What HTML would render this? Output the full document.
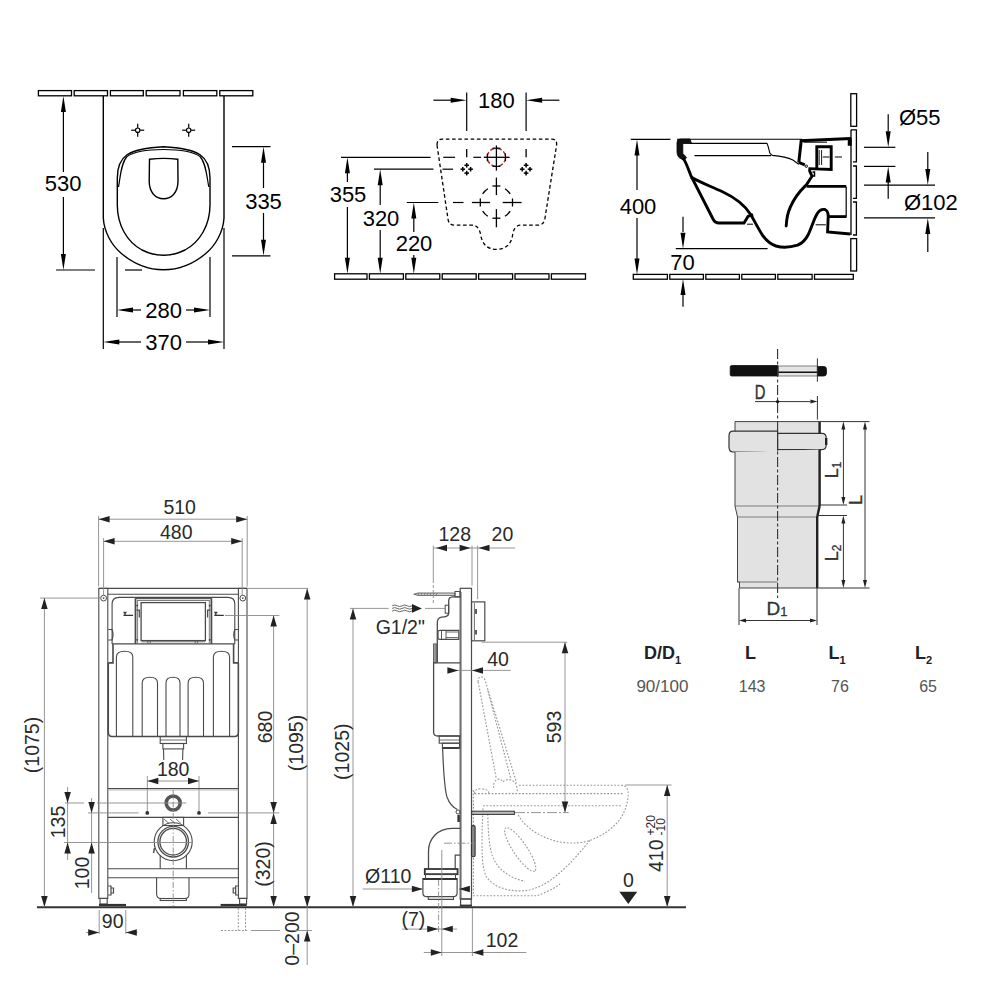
<!DOCTYPE html><html><head><meta charset="utf-8"><style>html,body{margin:0;padding:0;background:#fff;width:1000px;height:1000px;overflow:hidden}svg{display:block}text{font-family:"Liberation Sans",sans-serif}</style></head><body>
<svg width="1000" height="1000" viewBox="0 0 1000 1000">
<g id="s1">
<rect x="38.4" y="90.6" width="33.1" height="5.2" rx="0" stroke="#000" stroke-width="1.3" fill="none" />
<rect x="74.2" y="90.6" width="33.3" height="5.2" rx="0" stroke="#000" stroke-width="1.3" fill="none" />
<rect x="110.4" y="90.6" width="32.9" height="5.2" rx="0" stroke="#000" stroke-width="1.3" fill="none" />
<rect x="146.2" y="90.6" width="33.8" height="5.2" rx="0" stroke="#000" stroke-width="1.3" fill="none" />
<rect x="183.4" y="90.6" width="33.4" height="5.2" rx="0" stroke="#000" stroke-width="1.3" fill="none" />
<rect x="219.8" y="90.6" width="33" height="5.2" rx="0" stroke="#000" stroke-width="1.3" fill="none" />
<path d="M103.3,96 L103.3,218 C104,232 112,246 122,254 C134,264 148,269.8 163.6,269.8 C179.2,269.8 193.2,264 205.2,254 C215.2,246 223.3,232 224,218 L224,96" stroke="#000" stroke-width="1.4" fill="none" />
<path d="M117.3,178 C117.3,156 128,148.5 163.6,146.7 C199,148.5 210,156 210,178 L210,205 C210,225 200,242 185,250 C178,253.5 171,255.3 163.6,255.3 C156,255.3 149,253.5 142,250 C127,242 117.3,225 117.3,205 Z" stroke="#000" stroke-width="1.4" fill="none" />
<path d="M118.5,187 C120.5,176 121,163 127,156.5 C135,150.8 150,149.5 163.6,149.5 C177,149.5 192,150.8 200,156.5 C206,163 206.7,176 208.8,187" stroke="#000" stroke-width="1.2" fill="none" />
<path d="M149.5,159.2 Q163.6,157.6 177.8,159.2 L178,181 C178,192.5 171.5,198.8 163.6,198.8 C155.7,198.8 149.2,192.5 149.2,181 Z" stroke="#000" stroke-width="1.4" fill="none" />
<circle cx="137.7" cy="130.2" r="2.2" stroke="#000" stroke-width="1.2" fill="none" />
<line x1="131.2" y1="130.2" x2="135.3" y2="130.2" stroke="#000" stroke-width="1.2" />
<line x1="140.1" y1="130.2" x2="144.2" y2="130.2" stroke="#000" stroke-width="1.2" />
<line x1="137.7" y1="123.7" x2="137.7" y2="127.8" stroke="#000" stroke-width="1.2" />
<line x1="137.7" y1="132.6" x2="137.7" y2="136.7" stroke="#000" stroke-width="1.2" />
<circle cx="188.7" cy="130.2" r="2.2" stroke="#000" stroke-width="1.2" fill="none" />
<line x1="182.2" y1="130.2" x2="186.3" y2="130.2" stroke="#000" stroke-width="1.2" />
<line x1="191.1" y1="130.2" x2="195.2" y2="130.2" stroke="#000" stroke-width="1.2" />
<line x1="188.7" y1="123.7" x2="188.7" y2="127.8" stroke="#000" stroke-width="1.2" />
<line x1="188.7" y1="132.6" x2="188.7" y2="136.7" stroke="#000" stroke-width="1.2" />
<line x1="63.4" y1="111" x2="63.4" y2="172" stroke="#000" stroke-width="1.2" />
<line x1="63.4" y1="197" x2="63.4" y2="255" stroke="#000" stroke-width="1.2" />
<polygon points="63.4,96 60.9,112 65.9,112" fill="#000" stroke="none" stroke-width="1"/>
<polygon points="63.4,270 60.9,254 65.9,254" fill="#000" stroke="none" stroke-width="1"/>
<line x1="56" y1="270" x2="95" y2="270" stroke="#000" stroke-width="1.2" />
<line x1="125" y1="270" x2="142" y2="270" stroke="#000" stroke-width="1.2" />
<text x="63.2" y="191.2" font-size="22" text-anchor="middle" fill="#000" font-weight="normal" >530</text>
<line x1="232" y1="146.7" x2="270.5" y2="146.7" stroke="#000" stroke-width="1.2" />
<line x1="232" y1="255.8" x2="270.5" y2="255.8" stroke="#000" stroke-width="1.2" />
<line x1="263.5" y1="160" x2="263.5" y2="188" stroke="#000" stroke-width="1.2" />
<line x1="263.5" y1="213" x2="263.5" y2="242" stroke="#000" stroke-width="1.2" />
<polygon points="263.5,146.7 261,162.7 266,162.7" fill="#000" stroke="none" stroke-width="1"/>
<polygon points="263.5,255.8 261,239.8 266,239.8" fill="#000" stroke="none" stroke-width="1"/>
<text x="263.5" y="208.5" font-size="22" text-anchor="middle" fill="#000" font-weight="normal" >335</text>
<line x1="117" y1="257" x2="117" y2="317" stroke="#000" stroke-width="1.2" />
<line x1="210" y1="257" x2="210" y2="317" stroke="#000" stroke-width="1.2" />
<polygon points="117,310 133,307.5 133,312.5" fill="#000" stroke="none" stroke-width="1"/>
<polygon points="210,310 194,307.5 194,312.5" fill="#000" stroke="none" stroke-width="1"/>
<line x1="130" y1="310" x2="141" y2="310" stroke="#000" stroke-width="1.2" />
<line x1="186" y1="310" x2="197" y2="310" stroke="#000" stroke-width="1.2" />
<text x="163.6" y="318" font-size="22" text-anchor="middle" fill="#000" font-weight="normal" >280</text>
<line x1="103.3" y1="228" x2="103.3" y2="349" stroke="#000" stroke-width="1.2" />
<line x1="224" y1="228" x2="224" y2="349" stroke="#000" stroke-width="1.2" />
<polygon points="103.3,342 119.3,339.5 119.3,344.5" fill="#000" stroke="none" stroke-width="1"/>
<polygon points="224,342 208,339.5 208,344.5" fill="#000" stroke="none" stroke-width="1"/>
<line x1="117" y1="342" x2="141" y2="342" stroke="#000" stroke-width="1.2" />
<line x1="186" y1="342" x2="210" y2="342" stroke="#000" stroke-width="1.2" />
<text x="163.6" y="350" font-size="22" text-anchor="middle" fill="#000" font-weight="normal" >370</text>
</g>
<g id="s2">
<rect x="334.6" y="273.8" width="32.4" height="5.4" rx="0" stroke="#000" stroke-width="1.3" fill="none" />
<rect x="369.4" y="273.8" width="34" height="5.4" rx="0" stroke="#000" stroke-width="1.3" fill="none" />
<rect x="405.8" y="273.8" width="34" height="5.4" rx="0" stroke="#000" stroke-width="1.3" fill="none" />
<rect x="442.2" y="273.8" width="34" height="5.4" rx="0" stroke="#000" stroke-width="1.3" fill="none" />
<rect x="478.6" y="273.8" width="34" height="5.4" rx="0" stroke="#000" stroke-width="1.3" fill="none" />
<rect x="515" y="273.8" width="34" height="5.4" rx="0" stroke="#000" stroke-width="1.3" fill="none" />
<rect x="551.4" y="273.8" width="34.1" height="5.4" rx="0" stroke="#000" stroke-width="1.3" fill="none" />
<path d="M437,145 Q437,139.2 442,139.2 L552,139.2 Q557,139.2 556.6,145 L545,218 Q544,225.2 538,225.2 L521,225.2 C516,225.2 513.5,229 512.8,234 C511.5,244 506,249.3 496.4,249.3 C487,249.3 482,244 480.5,234 C479.5,229 477,225.2 472,225.2 L455,225.2 Q448.5,225.2 448,219 Z" stroke="#000" stroke-width="1.3" fill="none" stroke-dasharray="3.6,2.6"/>
<circle cx="496.4" cy="157.3" r="9.1" stroke="#b02828" stroke-width="1.5" fill="none" stroke-dasharray="5,2.2"/>
<line x1="496.4" y1="145.4" x2="496.4" y2="170.6" stroke="#000" stroke-width="1.3" />
<line x1="483.8" y1="157.3" x2="509.7" y2="157.3" stroke="#000" stroke-width="1.3" />
<line x1="492.5" y1="148.2" x2="500.3" y2="148.2" stroke="#000" stroke-width="1.1" />
<line x1="492.5" y1="166.4" x2="500.3" y2="166.4" stroke="#000" stroke-width="1.1" />
<line x1="487.3" y1="153.4" x2="487.3" y2="161.2" stroke="#000" stroke-width="1.1" />
<line x1="505.5" y1="153.4" x2="505.5" y2="161.2" stroke="#000" stroke-width="1.1" />
<line x1="468.3" y1="169.2" x2="472.9" y2="169.2" stroke="#000" stroke-width="1.5" />
<line x1="470.6" y1="166.9" x2="470.6" y2="171.5" stroke="#000" stroke-width="1.5" />
<line x1="460.5" y1="169.2" x2="465.1" y2="169.2" stroke="#000" stroke-width="1.5" />
<line x1="462.8" y1="166.9" x2="462.8" y2="171.5" stroke="#000" stroke-width="1.5" />
<line x1="464.4" y1="173.1" x2="469" y2="173.1" stroke="#000" stroke-width="1.5" />
<line x1="466.7" y1="170.8" x2="466.7" y2="175.4" stroke="#000" stroke-width="1.5" />
<line x1="464.4" y1="165.3" x2="469" y2="165.3" stroke="#000" stroke-width="1.5" />
<line x1="466.7" y1="163" x2="466.7" y2="167.6" stroke="#000" stroke-width="1.5" />
<line x1="466.7" y1="148.9" x2="466.7" y2="157.3" stroke="#000" stroke-width="1.3" />
<line x1="527.7" y1="169.2" x2="532.3" y2="169.2" stroke="#000" stroke-width="1.5" />
<line x1="530" y1="166.9" x2="530" y2="171.5" stroke="#000" stroke-width="1.5" />
<line x1="519.9" y1="169.2" x2="524.5" y2="169.2" stroke="#000" stroke-width="1.5" />
<line x1="522.2" y1="166.9" x2="522.2" y2="171.5" stroke="#000" stroke-width="1.5" />
<line x1="523.8" y1="173.1" x2="528.4" y2="173.1" stroke="#000" stroke-width="1.5" />
<line x1="526.1" y1="170.8" x2="526.1" y2="175.4" stroke="#000" stroke-width="1.5" />
<line x1="523.8" y1="165.3" x2="528.4" y2="165.3" stroke="#000" stroke-width="1.5" />
<line x1="526.1" y1="163" x2="526.1" y2="167.6" stroke="#000" stroke-width="1.5" />
<line x1="526.1" y1="148.9" x2="526.1" y2="157.3" stroke="#000" stroke-width="1.3" />
<path d="M510.14,211.08 A16.2,16.2 0 0 1 504.98,216.24" stroke="#000" stroke-width="1.3" fill="none" />
<path d="M487.82,216.24 A16.2,16.2 0 0 1 482.66,211.08" stroke="#000" stroke-width="1.3" fill="none" />
<path d="M482.66,193.92 A16.2,16.2 0 0 1 487.82,188.76" stroke="#000" stroke-width="1.3" fill="none" />
<path d="M504.98,188.76 A16.2,16.2 0 0 1 510.14,193.92" stroke="#000" stroke-width="1.3" fill="none" />
<line x1="471.9" y1="202.5" x2="490.1" y2="202.5" stroke="#000" stroke-width="1.3" />
<line x1="502.7" y1="202.5" x2="521.6" y2="202.5" stroke="#000" stroke-width="1.3" />
<line x1="496.4" y1="177.6" x2="496.4" y2="195.1" stroke="#000" stroke-width="1.3" />
<line x1="496.4" y1="209.1" x2="496.4" y2="227.3" stroke="#000" stroke-width="1.3" />
<line x1="480.3" y1="198.5" x2="480.3" y2="206.5" stroke="#000" stroke-width="1.3" />
<line x1="512.5" y1="198.5" x2="512.5" y2="206.5" stroke="#000" stroke-width="1.3" />
<line x1="492.4" y1="186" x2="500.4" y2="186" stroke="#000" stroke-width="1.3" />
<line x1="492.4" y1="218.2" x2="500.4" y2="218.2" stroke="#000" stroke-width="1.3" />
<line x1="466.7" y1="92.6" x2="466.7" y2="131" stroke="#000" stroke-width="1.2" />
<line x1="526.1" y1="92.6" x2="526.1" y2="131" stroke="#000" stroke-width="1.2" />
<line x1="433.4" y1="100.2" x2="452" y2="100.2" stroke="#000" stroke-width="1.2" />
<polygon points="466.7,100.2 450.7,97.7 450.7,102.7" fill="#000" stroke="none" stroke-width="1"/>
<line x1="541" y1="100.2" x2="559.4" y2="100.2" stroke="#000" stroke-width="1.2" />
<polygon points="526.1,100.2 542.1,97.7 542.1,102.7" fill="#000" stroke="none" stroke-width="1"/>
<text x="496.4" y="108" font-size="22" text-anchor="middle" fill="#000" font-weight="normal" >180</text>
<line x1="341" y1="157.3" x2="430.6" y2="157.3" stroke="#000" stroke-width="1.2" />
<line x1="443.2" y1="157.3" x2="455.1" y2="157.3" stroke="#000" stroke-width="1.2" />
<line x1="473.3" y1="157.3" x2="481" y2="157.3" stroke="#000" stroke-width="1.2" />
<polygon points="347.4,157.3 344.9,173.3 349.9,173.3" fill="#000" stroke="none" stroke-width="1"/>
<polygon points="347.4,273.8 344.9,257.8 349.9,257.8" fill="#000" stroke="none" stroke-width="1"/>
<line x1="347.4" y1="173" x2="347.4" y2="182" stroke="#000" stroke-width="1.2" />
<line x1="347.4" y1="207" x2="347.4" y2="258" stroke="#000" stroke-width="1.2" />
<text x="348" y="202" font-size="22" text-anchor="middle" fill="#000" font-weight="normal" >355</text>
<line x1="374" y1="169.2" x2="433.4" y2="169.2" stroke="#000" stroke-width="1.2" />
<line x1="442.5" y1="169.2" x2="453" y2="169.2" stroke="#000" stroke-width="1.2" />
<polygon points="380.2,169.2 377.7,185.2 382.7,185.2" fill="#000" stroke="none" stroke-width="1"/>
<polygon points="380.2,273.8 377.7,257.8 382.7,257.8" fill="#000" stroke="none" stroke-width="1"/>
<line x1="380.2" y1="184" x2="380.2" y2="205" stroke="#000" stroke-width="1.2" />
<line x1="380.2" y1="230" x2="380.2" y2="258" stroke="#000" stroke-width="1.2" />
<text x="381" y="226" font-size="22" text-anchor="middle" fill="#000" font-weight="normal" >320</text>
<line x1="406.8" y1="202.5" x2="438.3" y2="202.5" stroke="#000" stroke-width="1.2" />
<line x1="453" y1="202.5" x2="463.5" y2="202.5" stroke="#000" stroke-width="1.2" />
<polygon points="413.8,202.5 411.3,218.5 416.3,218.5" fill="#000" stroke="none" stroke-width="1"/>
<polygon points="413.8,273.8 411.3,257.8 416.3,257.8" fill="#000" stroke="none" stroke-width="1"/>
<line x1="413.8" y1="218" x2="413.8" y2="232" stroke="#000" stroke-width="1.2" />
<line x1="413.8" y1="255" x2="413.8" y2="258" stroke="#000" stroke-width="1.2" />
<text x="414" y="251" font-size="22" text-anchor="middle" fill="#000" font-weight="normal" >220</text>
</g>
<g id="s3">
<rect x="633.3" y="274.4" width="34.1" height="4.8" rx="0" stroke="#000" stroke-width="1.3" fill="none" />
<rect x="669.8" y="274.4" width="33.6" height="4.8" rx="0" stroke="#000" stroke-width="1.3" fill="none" />
<rect x="705.8" y="274.4" width="33.6" height="4.8" rx="0" stroke="#000" stroke-width="1.3" fill="none" />
<rect x="741.8" y="274.4" width="33.6" height="4.8" rx="0" stroke="#000" stroke-width="1.3" fill="none" />
<rect x="777.8" y="274.4" width="34.3" height="4.8" rx="0" stroke="#000" stroke-width="1.3" fill="none" />
<rect x="814.5" y="274.4" width="38.8" height="4.8" rx="0" stroke="#000" stroke-width="1.3" fill="none" />
<rect x="850.8" y="93.7" width="5.8" height="32.6" rx="0" stroke="#000" stroke-width="1.3" fill="none" />
<path d="M851,129.8 L856.4,129.8 L856.4,161.8 L853,161.8" stroke="#000" stroke-width="1.3" fill="none" />
<path d="M853,166 L856.4,166 L856.4,198.4 L853,198.4" stroke="#000" stroke-width="1.3" fill="none" />
<path d="M853,202 L856.4,202 L856.4,235 L853,235" stroke="#000" stroke-width="1.3" fill="none" />
<path d="M851,129.8 L851,138" stroke="#000" stroke-width="1.3" fill="none" />
<rect x="850.8" y="238.6" width="5.8" height="32.4" rx="0" stroke="#000" stroke-width="1.3" fill="none" />
<line x1="851" y1="138" x2="851" y2="235" stroke="#000" stroke-width="1.3" />
<line x1="677" y1="139.3" x2="802" y2="139.3" stroke="#000" stroke-width="1.1" />
<path d="M690,143.4 L767,143.4 C768.5,146 769,151 770,153.4 L772.4,155.4 C780,156 788,157.5 792.8,160 C795,161.5 797,163 799,164.2" stroke="#000" stroke-width="1.1" fill="none" />
<line x1="694.5" y1="155.7" x2="771" y2="155.7" stroke="#000" stroke-width="1.2" />
<path d="M677,142.5 Q677,139 680.5,139 L690,139 L691.5,143.5 L682.8,143.5 L682.8,153.5 L686.5,157.5 L684,160.5 L679,157.5 Q677,155.5 677,152 Z" stroke="#000" stroke-width="0.8" fill="#111" />
<path d="M683,158 C686,162 688,168 691,176 L713,219 Q715,223 719,223 L744,223 L748,216.5 L753,214.5" stroke="#000" stroke-width="2.9" fill="none" />
<line x1="747" y1="224.2" x2="753" y2="224.2" stroke="#000" stroke-width="1" />
<path d="M691,177 C697,181 710,186 722,191.5 C736,198 745,205 751,215 C755,222 759,230 762.8,235.6 C766,240 770,244 776,246 C781,247.5 790,247.5 797.6,245.2 C803,243 806,239 808,235 C811,229 814,219 817,214 C819,210.5 822,209 825,209.5 C827.5,210.5 828.2,213 828.2,216.4 L827.6,232 L850.4,234" stroke="#000" stroke-width="2.9" fill="none" />
<path d="M786.2,226 C786.5,220 787.5,213 790.4,207 C793,201 798,193 804.8,186.4 L806.6,184.6 L812,176.2 L809.6,170.8" stroke="#000" stroke-width="2.9" fill="none" stroke-linecap="round"/>
<path d="M812.5,172 L814.5,172 L814.5,176 L812.5,176" stroke="#000" stroke-width="1.5" fill="none" />
<path d="M798.8,162.4 L801.2,140.8 L851,138.4" stroke="#000" stroke-width="3" fill="none" />
<path d="M848.5,139 L851,139 L851,145 L848.5,145 Z" stroke="#000" stroke-width="1.5" fill="#000" />
<path d="M803.6,142.2 L827,142.2" stroke="#000" stroke-width="1" fill="none" />
<path d="M808.4,168.6 L831.2,169.4 L831.2,146.8 L816.8,146.8 L816.8,168" stroke="#000" stroke-width="2.9" fill="none" />
<line x1="819.2" y1="150" x2="819.2" y2="165" stroke="#000" stroke-width="0.9" />
<line x1="821.6" y1="150" x2="821.6" y2="165" stroke="#000" stroke-width="0.9" />
<line x1="822.8" y1="157" x2="829.4" y2="157" stroke="#000" stroke-width="1" />
<line x1="834.8" y1="157" x2="842" y2="157" stroke="#000" stroke-width="1" />
<path d="M798.8,162.4 L804.8,164.8" stroke="#000" stroke-width="2.9" fill="none" />
<circle cx="806.3" cy="166.2" r="1.2" stroke="#000" stroke-width="1" fill="none" />
<line x1="806.6" y1="186.4" x2="846.2" y2="186.4" stroke="#000" stroke-width="2.8" />
<line x1="846.2" y1="186.4" x2="846.2" y2="217.6" stroke="#000" stroke-width="1.2" />
<line x1="827.6" y1="216.6" x2="846.2" y2="216.6" stroke="#000" stroke-width="2.8" />
<line x1="815.6" y1="224.8" x2="825.8" y2="224.8" stroke="#000" stroke-width="1" />
<line x1="864" y1="147.3" x2="895.4" y2="147.3" stroke="#000" stroke-width="1.2" />
<line x1="864" y1="166.4" x2="895.4" y2="166.4" stroke="#000" stroke-width="1.2" />
<line x1="864" y1="185.1" x2="935" y2="185.1" stroke="#000" stroke-width="1.2" />
<line x1="864" y1="217.9" x2="935" y2="217.9" stroke="#000" stroke-width="1.2" />
<line x1="888.2" y1="114.2" x2="888.2" y2="131" stroke="#000" stroke-width="1.2" />
<polygon points="888.2,147.3 885.7,131.3 890.7,131.3" fill="#000" stroke="none" stroke-width="1"/>
<line x1="888.2" y1="198.8" x2="888.2" y2="182" stroke="#000" stroke-width="1.2" />
<polygon points="888.2,166.4 885.7,182.4 890.7,182.4" fill="#000" stroke="none" stroke-width="1"/>
<line x1="927.8" y1="152" x2="927.8" y2="169" stroke="#000" stroke-width="1.2" />
<polygon points="927.8,185.1 925.3,169.1 930.3,169.1" fill="#000" stroke="none" stroke-width="1"/>
<line x1="927.8" y1="252" x2="927.8" y2="234" stroke="#000" stroke-width="1.2" />
<polygon points="927.8,217.9 925.3,233.9 930.3,233.9" fill="#000" stroke="none" stroke-width="1"/>
<text x="919.7" y="125" font-size="22" text-anchor="middle" fill="#000" font-weight="normal" >Ø55</text>
<text x="930.8" y="209.6" font-size="22" text-anchor="middle" fill="#000" font-weight="normal" >Ø102</text>
<line x1="630.8" y1="139.4" x2="670.4" y2="139.4" stroke="#000" stroke-width="1.2" />
<polygon points="637,139.4 634.5,155.4 639.5,155.4" fill="#000" stroke="none" stroke-width="1"/>
<polygon points="637,274.4 634.5,258.4 639.5,258.4" fill="#000" stroke="none" stroke-width="1"/>
<line x1="637" y1="155" x2="637" y2="190" stroke="#000" stroke-width="1.2" />
<line x1="637" y1="218" x2="637" y2="259" stroke="#000" stroke-width="1.2" />
<text x="638" y="214" font-size="22" text-anchor="middle" fill="#000" font-weight="normal" >400</text>
<line x1="683" y1="216.8" x2="683" y2="232" stroke="#000" stroke-width="1.2" />
<polygon points="683,248.7 680.5,232.7 685.5,232.7" fill="#000" stroke="none" stroke-width="1"/>
<line x1="675.8" y1="248.7" x2="767.6" y2="248.7" stroke="#000" stroke-width="1.2" />
<line x1="683" y1="306.8" x2="683" y2="295" stroke="#000" stroke-width="1.2" />
<polygon points="683,279 680.5,295 685.5,295" fill="#000" stroke="none" stroke-width="1"/>
<text x="682.4" y="269.7" font-size="22" text-anchor="middle" fill="#000" font-weight="normal" >70</text>
</g>
<g id="s4">
<rect x="730.2" y="365.5" width="48.5" height="10.5" rx="1.5" stroke="#111" stroke-width="0.8" fill="#111" />
<rect x="778.5" y="366" width="38.9" height="10" rx="0" stroke="#666" stroke-width="0.8" fill="#e4e4e4" />
<line x1="778.5" y1="372.2" x2="817.4" y2="372.2" stroke="#111" stroke-width="1.6" />
<path d="M817.4,366.5 L824,366.5 Q826.5,366.5 826.5,369.5 L826.5,373 Q826.5,376 824,376 L817.4,376 Z" stroke="#111" stroke-width="0.8" fill="#111" />
<line x1="817.4" y1="358.4" x2="817.4" y2="381.8" stroke="#333" stroke-width="1" />
<text x="760.2" y="399.2" font-size="20" text-anchor="middle" fill="#333" font-weight="normal" transform="translate(760.2 0) scale(0.74 1) translate(-760.2 0)" stroke="#333" stroke-width="0.4">D</text>
<line x1="755" y1="401.6" x2="810" y2="401.6" stroke="#333" stroke-width="1" />
<polygon points="817.4,401.6 810.4,399.6 810.4,403.6" fill="#222" stroke="none" stroke-width="1"/>
<circle cx="777.6" cy="401.6" r="1.6" stroke="#000" stroke-width="0" fill="#111" />
<line x1="817.4" y1="396" x2="817.4" y2="419.6" stroke="#333" stroke-width="1" />
<path d="M735,433 L735,421.6 L819.6,421.6 L819.6,433" stroke="#444" stroke-width="1" fill="#e2e2e2" />
<path d="M733,431.2 L777.6,431.2 L777.6,452 L733,452 Q729,452 729,447 L729,436 Q729,431.2 733,431.2 Z" stroke="#333" stroke-width="1.2" fill="#e2e2e2" />
<path d="M777.6,433.4 L822,433.4 Q826.2,433.4 826.2,438 L826.2,445 Q826.2,449.6 822,449.6 L777.6,449.6 Z" stroke="#333" stroke-width="1.2" fill="#e2e2e2" />
<path d="M735,452 L735,506 L737.5,517 L737.5,582 L739.5,582 L739.5,588 L817,588 L817,517 L819.6,506 L819.6,449.6" stroke="#444" stroke-width="1" fill="#e2e2e2" />
<line x1="735" y1="506" x2="819.6" y2="506" stroke="#666" stroke-width="0.8" />
<line x1="737.5" y1="517" x2="817" y2="517" stroke="#666" stroke-width="0.8" />
<line x1="737.5" y1="582" x2="777.6" y2="582" stroke="#555" stroke-width="0.8" />
<line x1="819.6" y1="421.6" x2="819.6" y2="433.4" stroke="#222" stroke-width="2.4" />
<line x1="826.2" y1="438" x2="826.2" y2="445" stroke="#222" stroke-width="2.4" />
<line x1="819.6" y1="449.6" x2="819.6" y2="506" stroke="#222" stroke-width="2.4" />
<line x1="817.2" y1="517" x2="817.2" y2="588" stroke="#222" stroke-width="2.4" />
<line x1="819.6" y1="506" x2="817.2" y2="517" stroke="#222" stroke-width="2.4" />
<line x1="777.6" y1="349" x2="777.6" y2="598" stroke="#333" stroke-width="1.1" stroke-dasharray="10,2.5,3,2.5"/>
<line x1="820" y1="421.6" x2="869.5" y2="421.6" stroke="#333" stroke-width="1" />
<line x1="817" y1="588" x2="869.5" y2="588" stroke="#333" stroke-width="1" />
<line x1="820" y1="505" x2="847" y2="505" stroke="#333" stroke-width="1" />
<line x1="817" y1="515.5" x2="847" y2="515.5" stroke="#333" stroke-width="1" />
<line x1="865" y1="428" x2="865" y2="582" stroke="#333" stroke-width="1" />
<polygon points="865,421.6 863,429.6 867,429.6" fill="#222" stroke="none" stroke-width="1"/>
<polygon points="865,588 863,580 867,580" fill="#222" stroke="none" stroke-width="1"/>
<line x1="843.4" y1="428" x2="843.4" y2="498" stroke="#333" stroke-width="1" />
<polygon points="843.4,421.6 841.4,429.6 845.4,429.6" fill="#222" stroke="none" stroke-width="1"/>
<polygon points="843.4,505 841.4,497 845.4,497" fill="#222" stroke="none" stroke-width="1"/>
<line x1="843.4" y1="522" x2="843.4" y2="582" stroke="#333" stroke-width="1" />
<polygon points="843.4,515.5 841.4,523.5 845.4,523.5" fill="#222" stroke="none" stroke-width="1"/>
<polygon points="843.4,588 841.4,580 845.4,580" fill="#222" stroke="none" stroke-width="1"/>
<text x="837.5" y="470" font-size="18" text-anchor="middle" fill="#333" font-weight="normal" transform="rotate(-90 837.5 470)" stroke="#333" stroke-width="0.3">L<tspan font-size="12" dy="3">1</tspan></text>
<text x="862" y="500" font-size="18" text-anchor="middle" fill="#333" font-weight="normal" transform="rotate(-90 862 500)" stroke="#333" stroke-width="0.3">L</text>
<text x="837.5" y="553" font-size="18" text-anchor="middle" fill="#333" font-weight="normal" transform="rotate(-90 837.5 553)" stroke="#333" stroke-width="0.3">L<tspan font-size="12" dy="3">2</tspan></text>
<line x1="739" y1="588" x2="739" y2="625" stroke="#333" stroke-width="1" />
<line x1="817" y1="588" x2="817" y2="625" stroke="#333" stroke-width="1" />
<line x1="745" y1="620.5" x2="811" y2="620.5" stroke="#333" stroke-width="1" />
<polygon points="739,620.5 746,618.5 746,622.5" fill="#222" stroke="none" stroke-width="1"/>
<polygon points="817,620.5 810,618.5 810,622.5" fill="#222" stroke="none" stroke-width="1"/>
<text x="777" y="614.5" font-size="19" text-anchor="middle" fill="#333" font-weight="normal" stroke="#333" stroke-width="0.3">D<tspan font-size="13" dy="1">1</tspan></text>
<text x="644" y="659.3" font-size="18" text-anchor="start" fill="#222" font-weight="bold" >D/D<tspan font-size="11" dy="5">1</tspan></text>
<text x="745" y="659.3" font-size="18" text-anchor="start" fill="#222" font-weight="bold" >L</text>
<text x="828.5" y="659.3" font-size="18" text-anchor="start" fill="#222" font-weight="bold" >L<tspan font-size="11" dy="5">1</tspan></text>
<text x="914.9" y="659.3" font-size="18" text-anchor="start" fill="#222" font-weight="bold" >L<tspan font-size="11" dy="5">2</tspan></text>
<text x="636.4" y="692.3" font-size="17" text-anchor="start" fill="#555" font-weight="normal" >90/100</text>
<text x="738.8" y="692.3" font-size="16" text-anchor="start" fill="#555" font-weight="normal" >143</text>
<text x="831" y="692.3" font-size="16" text-anchor="start" fill="#555" font-weight="normal" >76</text>
<text x="919.2" y="692.3" font-size="16" text-anchor="start" fill="#555" font-weight="normal" >65</text>
</g>
<g id="s5">
<rect x="98.8" y="588.4" width="9" height="310" rx="0" stroke="#4a4a4a" stroke-width="1.1" fill="none" />
<rect x="238.4" y="588.4" width="8.6" height="310" rx="0" stroke="#4a4a4a" stroke-width="1.1" fill="none" />
<line x1="98.8" y1="588.4" x2="247" y2="588.4" stroke="#4a4a4a" stroke-width="1.1" />
<line x1="107.8" y1="594.3" x2="238.4" y2="594.3" stroke="#4a4a4a" stroke-width="1.1" />
<rect x="100" y="898.4" width="7.2" height="5.6" rx="0" stroke="#4a4a4a" stroke-width="1.1" fill="none" />
<rect x="239.6" y="898.4" width="7" height="5.6" rx="0" stroke="#4a4a4a" stroke-width="1.1" fill="none" />
<line x1="99" y1="905" x2="126" y2="905" stroke="#333" stroke-width="2.2" />
<line x1="220.6" y1="905" x2="246.7" y2="905" stroke="#333" stroke-width="2.2" />
<circle cx="103.6" cy="598.1" r="2.9" stroke="#4a4a4a" stroke-width="1" fill="none" />
<circle cx="103.6" cy="598.1" r="0.9" stroke="#000" stroke-width="0" fill="#4a4a4a" />
<circle cx="242.8" cy="598.1" r="2.9" stroke="#4a4a4a" stroke-width="1" fill="none" />
<circle cx="242.8" cy="598.1" r="0.9" stroke="#000" stroke-width="0" fill="#4a4a4a" />
<path d="M112.1,643.9 L112.1,604 Q112.1,597.4 119,597.4 L228,597.4 Q234.8,597.4 234.8,604 L234.8,643.9" stroke="#4a4a4a" stroke-width="1.1" fill="none" />
<line x1="112.1" y1="643.9" x2="234.8" y2="643.9" stroke="#4a4a4a" stroke-width="1.1" />
<path d="M108.3,662.9 L113,662.9 L113,643.9" stroke="#4a4a4a" stroke-width="1.6" fill="none" />
<path d="M238.4,662.9 L233.6,662.9 L233.6,643.9" stroke="#4a4a4a" stroke-width="1.6" fill="none" />
<path d="M108.3,629.5 L112,629.5 Q114,634.5 112,640 L108.3,640" stroke="#4a4a4a" stroke-width="1.2" fill="none" />
<path d="M238.4,629.5 L234.8,629.5 Q232.8,634.5 234.8,640 L238.4,640" stroke="#4a4a4a" stroke-width="1.2" fill="none" />
<line x1="135.5" y1="598.3" x2="135.5" y2="644" stroke="#4a4a4a" stroke-width="1.8" />
<line x1="211.4" y1="598.3" x2="211.4" y2="644" stroke="#4a4a4a" stroke-width="1.8" />
<line x1="137.6" y1="600" x2="137.6" y2="643" stroke="#4a4a4a" stroke-width="0.7" />
<line x1="209.3" y1="600" x2="209.3" y2="643" stroke="#4a4a4a" stroke-width="0.7" />
<line x1="135.5" y1="598.6" x2="211.4" y2="598.6" stroke="#4a4a4a" stroke-width="1" />
<line x1="137.6" y1="600.4" x2="209.3" y2="600.4" stroke="#4a4a4a" stroke-width="0.8" />
<rect x="141.1" y="602.6" width="64.3" height="38" rx="0" stroke="#4a4a4a" stroke-width="1.3" fill="none" />
<path d="M136.5,610.2 L139.3,610.2 L139.3,617.5" stroke="#4a4a4a" stroke-width="1.2" fill="none" />
<path d="M210.4,610.2 L207.6,610.2 L207.6,617.5" stroke="#4a4a4a" stroke-width="1.2" fill="none" />
<circle cx="137.2" cy="605.6" r="0.9" stroke="#000" stroke-width="0" fill="#333" />
<circle cx="209.7" cy="605.6" r="0.9" stroke="#000" stroke-width="0" fill="#333" />
<circle cx="137.2" cy="639.8" r="0.9" stroke="#000" stroke-width="0" fill="#333" />
<circle cx="209.7" cy="639.8" r="0.9" stroke="#000" stroke-width="0" fill="#333" />
<line x1="147.8" y1="641" x2="147.8" y2="643.5" stroke="#4a4a4a" stroke-width="0.8" />
<line x1="150.2" y1="641" x2="150.2" y2="643.5" stroke="#4a4a4a" stroke-width="0.8" />
<line x1="195.2" y1="641" x2="195.2" y2="643.5" stroke="#4a4a4a" stroke-width="0.8" />
<line x1="197.6" y1="641" x2="197.6" y2="643.5" stroke="#4a4a4a" stroke-width="0.8" />
<line x1="141.5" y1="641.8" x2="205" y2="641.8" stroke="#4a4a4a" stroke-width="0.7" />
<path d="M123.5,612.5 L126.5,612.5 M125.0,612.5 L125.0,615 M123.5,615.4 L133.0,615.4" stroke="#333" stroke-width="1.3" fill="none" />
<path d="M214.3,612.5 L217.3,612.5 M215.8,612.5 L215.8,615 M214.3,615.4 L223.8,615.4" stroke="#333" stroke-width="1.3" fill="none" />
<path d="M108.3,662.9 L108.3,732 Q108.3,736.5 112,736.5 L234.8,736.5 Q238.4,736.5 238.4,732 L238.4,662.9" stroke="#4a4a4a" stroke-width="1.5" fill="none" />
<path d="M116.4,736.5 L116.4,657 C116.4,652.5 119.4,651.2 124.60000000000001,651.2 C129.8,651.2 132.8,652.5 132.8,657 L132.8,736.5" stroke="#4a4a4a" stroke-width="1.1" fill="none" />
<path d="M142.2,736.5 L142.2,683.1 C142.2,678.6 145.2,677.3000000000001 149.85,677.3000000000001 C154.5,677.3000000000001 157.5,678.6 157.5,683.1 L157.5,736.5" stroke="#4a4a4a" stroke-width="1.1" fill="none" />
<path d="M166,736.5 L166,683.1 C166,678.6 169,677.3000000000001 173.0,677.3000000000001 C177,677.3000000000001 180,678.6 180,683.1 L180,736.5" stroke="#4a4a4a" stroke-width="1.1" fill="none" />
<path d="M188.1,736.5 L188.1,683.1 C188.1,678.6 191.1,677.3000000000001 195.8,677.3000000000001 C200.5,677.3000000000001 203.5,678.6 203.5,683.1 L203.5,736.5" stroke="#4a4a4a" stroke-width="1.1" fill="none" />
<path d="M213.4,736.5 L213.4,657 C213.4,652.5 216.4,651.2 221.5,651.2 C226.6,651.2 229.6,652.5 229.6,657 L229.6,736.5" stroke="#4a4a4a" stroke-width="1.1" fill="none" />
<rect x="160.2" y="736.5" width="26.2" height="7" rx="0" stroke="#4a4a4a" stroke-width="1.1" fill="none" />
<line x1="160.2" y1="740" x2="186.4" y2="740" stroke="#4a4a4a" stroke-width="0.8" />
<rect x="162.9" y="743.5" width="20.7" height="5.4" rx="0" stroke="#4a4a4a" stroke-width="1.1" fill="none" />
<path d="M163.5,748.9 L163.8,760 M182.9,748.9 L182.6,760" stroke="#4a4a4a" stroke-width="1.1" fill="none" />
<line x1="147.3" y1="776" x2="147.3" y2="812.9" stroke="#8a8a8a" stroke-width="0.9" />
<line x1="199" y1="776" x2="199" y2="812.9" stroke="#8a8a8a" stroke-width="0.9" />
<line x1="147.3" y1="781" x2="199" y2="781" stroke="#8a8a8a" stroke-width="0.9" />
<polygon points="147.3,781 158.3,777.75 158.3,784.25" fill="#222" stroke="none" stroke-width="1"/>
<polygon points="199,781 188,777.75 188,784.25" fill="#222" stroke="none" stroke-width="1"/>
<text x="173.2" y="776" font-size="19.5" text-anchor="middle" fill="#2a2a2a" font-weight="normal" >180</text>
<line x1="108" y1="788.6" x2="238.4" y2="788.6" stroke="#4a4a4a" stroke-width="1.1" />
<line x1="108" y1="817.4" x2="238.4" y2="817.4" stroke="#4a4a4a" stroke-width="1.1" />
<line x1="108" y1="790.4" x2="238.4" y2="790.4" stroke="#bbb" stroke-width="0.6" />
<circle cx="173.2" cy="803" r="7" stroke="#555" stroke-width="3.6" fill="none" />
<circle cx="147.3" cy="812.9" r="1.9" stroke="#000" stroke-width="0" fill="#333" />
<circle cx="199" cy="812.9" r="1.9" stroke="#000" stroke-width="0" fill="#333" />
<rect x="162.9" y="817.4" width="20.7" height="8.1" rx="0" stroke="#4a4a4a" stroke-width="1.1" fill="none" />
<path d="M164,819 L169,823.5 M170,819 L175,823.5 M176,819 L181,823.5" stroke="#4a4a4a" stroke-width="0.8" fill="none" />
<circle cx="173.2" cy="841.7" r="19" stroke="#4a4a4a" stroke-width="1.1" fill="none" />
<circle cx="173.2" cy="841.7" r="15.3" stroke="#4a4a4a" stroke-width="1.3" fill="none" />
<circle cx="173.2" cy="841.7" r="13.3" stroke="#4a4a4a" stroke-width="1.3" fill="none" />
<path d="M160.2,855 L160.2,868.7 M186.4,855 L186.4,868.7" stroke="#4a4a4a" stroke-width="1.1" fill="none" />
<path d="M154.5,848 L153.5,853" stroke="#4a4a4a" stroke-width="1.4" fill="none" />
<line x1="108" y1="868.7" x2="238.4" y2="868.7" stroke="#4a4a4a" stroke-width="1.1" />
<line x1="108" y1="877.7" x2="238.4" y2="877.7" stroke="#4a4a4a" stroke-width="1.1" />
<path d="M156.6,877.7 L156.6,894 Q156.6,898.5 161,898.5 L185,898.5 Q189,898.5 189,894 L189,877.7" stroke="#4a4a4a" stroke-width="1.1" fill="none" />
<rect x="160.2" y="898.5" width="26.2" height="2" rx="0" stroke="#4a4a4a" stroke-width="1.1" fill="none" />
<path d="M108.3,886 L111,886 L111,895 L108.3,895 M111,888 L113.5,888 L113.5,893 L111,893" stroke="#4a4a4a" stroke-width="1.2" fill="none" />
<path d="M238.4,886 L235.7,886 L235.7,895 L238.4,895 M235.7,888 L233.2,888 L233.2,893 L235.7,893" stroke="#4a4a4a" stroke-width="1.2" fill="none" />
<line x1="173.2" y1="790" x2="173.2" y2="906" stroke="#8a8a8a" stroke-width="0.9" stroke-dasharray="6,2,1.5,2"/>
<line x1="37" y1="907.3" x2="686" y2="907.3" stroke="#333" stroke-width="2" />
<line x1="98.6" y1="516" x2="98.6" y2="586.5" stroke="#8a8a8a" stroke-width="0.9" />
<line x1="247.2" y1="516" x2="247.2" y2="586.5" stroke="#8a8a8a" stroke-width="0.9" />
<line x1="98.6" y1="519.2" x2="247.2" y2="519.2" stroke="#8a8a8a" stroke-width="0.9" />
<polygon points="98.6,519.2 109.6,515.95 109.6,522.45" fill="#222" stroke="none" stroke-width="1"/>
<polygon points="247.2,519.2 236.2,515.95 236.2,522.45" fill="#222" stroke="none" stroke-width="1"/>
<text x="179.7" y="513.8" font-size="19.5" text-anchor="middle" fill="#2a2a2a" font-weight="normal" >510</text>
<line x1="103.6" y1="538" x2="103.6" y2="596" stroke="#8a8a8a" stroke-width="0.9" />
<line x1="242.2" y1="538" x2="242.2" y2="596" stroke="#8a8a8a" stroke-width="0.9" />
<line x1="103.6" y1="541.3" x2="242.2" y2="541.3" stroke="#8a8a8a" stroke-width="0.9" />
<polygon points="103.6,541.3 114.6,538.05 114.6,544.55" fill="#222" stroke="none" stroke-width="1"/>
<polygon points="242.2,541.3 231.2,538.05 231.2,544.55" fill="#222" stroke="none" stroke-width="1"/>
<text x="176.3" y="539" font-size="19.5" text-anchor="middle" fill="#2a2a2a" font-weight="normal" >480</text>
<line x1="40" y1="598.1" x2="101" y2="598.1" stroke="#8a8a8a" stroke-width="0.9" />
<line x1="44.4" y1="598.1" x2="44.4" y2="907" stroke="#8a8a8a" stroke-width="0.9" />
<polygon points="44.4,598.1 41.15,609.1 47.65,609.1" fill="#222" stroke="none" stroke-width="1"/>
<polygon points="44.4,907 41.15,896 47.65,896" fill="#222" stroke="none" stroke-width="1"/>
<text x="38.5" y="745" font-size="19.5" text-anchor="middle" fill="#2a2a2a" font-weight="normal" transform="rotate(-90 38.5 745)" >(1075)</text>
<line x1="65" y1="803" x2="84" y2="803" stroke="#8a8a8a" stroke-width="0.9" />
<line x1="97" y1="803" x2="186.3" y2="803" stroke="#8a8a8a" stroke-width="0.9" />
<line x1="88" y1="812.9" x2="138.6" y2="812.9" stroke="#8a8a8a" stroke-width="0.9" />
<line x1="208" y1="812.9" x2="279.3" y2="812.9" stroke="#8a8a8a" stroke-width="0.9" />
<line x1="64" y1="842.5" x2="192.6" y2="842.5" stroke="#8a8a8a" stroke-width="0.9" />
<line x1="67.6" y1="787" x2="67.6" y2="860" stroke="#8a8a8a" stroke-width="0.9" />
<polygon points="67.6,803 64.35,792 70.85,792" fill="#222" stroke="none" stroke-width="1"/>
<polygon points="67.6,842.5 64.35,853.5 70.85,853.5" fill="#222" stroke="none" stroke-width="1"/>
<text x="64.5" y="822" font-size="19.5" text-anchor="middle" fill="#2a2a2a" font-weight="normal" transform="rotate(-90 64.5 822)" >135</text>
<line x1="91.6" y1="798" x2="91.6" y2="893" stroke="#8a8a8a" stroke-width="0.9" />
<polygon points="91.6,812.9 88.35,801.9 94.85,801.9" fill="#222" stroke="none" stroke-width="1"/>
<polygon points="91.6,842.5 88.35,853.5 94.85,853.5" fill="#222" stroke="none" stroke-width="1"/>
<text x="88.5" y="873" font-size="19.5" text-anchor="middle" fill="#2a2a2a" font-weight="normal" transform="rotate(-90 88.5 873)" >100</text>
<line x1="99.2" y1="910" x2="99.2" y2="934" stroke="#8a8a8a" stroke-width="0.9" />
<line x1="125.8" y1="910" x2="125.8" y2="934" stroke="#8a8a8a" stroke-width="0.9" />
<line x1="86" y1="932.5" x2="99.2" y2="932.5" stroke="#8a8a8a" stroke-width="0.9" />
<polygon points="99.2,932.5 88.2,929.25 88.2,935.75" fill="#222" stroke="none" stroke-width="1"/>
<line x1="125.8" y1="932.5" x2="137.5" y2="932.5" stroke="#8a8a8a" stroke-width="0.9" />
<polygon points="125.8,932.5 136.8,929.25 136.8,935.75" fill="#222" stroke="none" stroke-width="1"/>
<text x="112.7" y="928" font-size="19.5" text-anchor="middle" fill="#2a2a2a" font-weight="normal" >90</text>
<line x1="247" y1="588.4" x2="308" y2="588.4" stroke="#8a8a8a" stroke-width="0.9" />
<line x1="225" y1="615.5" x2="279.3" y2="615.5" stroke="#8a8a8a" stroke-width="0.9" />
<line x1="273.6" y1="615.5" x2="273.6" y2="907" stroke="#8a8a8a" stroke-width="0.9" />
<polygon points="273.6,615.5 270.35,626.5 276.85,626.5" fill="#222" stroke="none" stroke-width="1"/>
<polygon points="273.6,812.9 270.35,801.9 276.85,801.9" fill="#222" stroke="none" stroke-width="1"/>
<polygon points="273.6,812.9 270.35,823.9 276.85,823.9" fill="#222" stroke="none" stroke-width="1"/>
<polygon points="273.6,907 270.35,896 276.85,896" fill="#222" stroke="none" stroke-width="1"/>
<text x="272" y="727" font-size="19.5" text-anchor="middle" fill="#2a2a2a" font-weight="normal" transform="rotate(-90 272 727)" >680</text>
<text x="270" y="864" font-size="19.5" text-anchor="middle" fill="#2a2a2a" font-weight="normal" transform="rotate(-90 270 864)" >(320)</text>
<line x1="307.2" y1="588.4" x2="307.2" y2="965" stroke="#8a8a8a" stroke-width="0.9" />
<polygon points="307.2,588.4 303.95,599.4 310.45,599.4" fill="#222" stroke="none" stroke-width="1"/>
<polygon points="307.2,907 303.95,896 310.45,896" fill="#222" stroke="none" stroke-width="1"/>
<polygon points="307.2,930.5 303.95,941.5 310.45,941.5" fill="#222" stroke="none" stroke-width="1"/>
<text x="303" y="743" font-size="19.5" text-anchor="middle" fill="#2a2a2a" font-weight="normal" transform="rotate(-90 303 743)" >(1095)</text>
<text x="298.5" y="938.5" font-size="19.5" text-anchor="middle" fill="#2a2a2a" font-weight="normal" transform="rotate(-90 298.5 938.5)" >0–200</text>
<line x1="238.3" y1="908" x2="238.3" y2="930.5" stroke="#8a8a8a" stroke-width="0.9" stroke-dasharray="2,1.5"/>
<line x1="245.5" y1="908" x2="245.5" y2="930.5" stroke="#8a8a8a" stroke-width="0.9" stroke-dasharray="2,1.5"/>
<line x1="221" y1="930.5" x2="247" y2="930.5" stroke="#8a8a8a" stroke-width="0.9" stroke-dasharray="2,1.5"/>
<line x1="251" y1="930.5" x2="280" y2="930.5" stroke="#8a8a8a" stroke-width="0.9" />
<line x1="290" y1="930.5" x2="312" y2="930.5" stroke="#8a8a8a" stroke-width="0.9" />
</g>
<g id="s6">
<path d="M478.2,682 C477,676 483,675 485,680 L516.6,782.8" stroke="#999" stroke-width="1.1" fill="none" stroke-dasharray="1.8,1.6"/>
<path d="M478.2,682 L496.2,778" stroke="#999" stroke-width="1.1" fill="none" stroke-dasharray="1.8,1.6"/>
<path d="M487.8,690.4 L510.6,778" stroke="#999" stroke-width="1.1" fill="none" stroke-dasharray="1.8,1.6"/>
<path d="M493.8,788 C492,780 500,776 503,782 C506,778 514,779 516.5,785 L517.5,792" stroke="#999" stroke-width="1.1" fill="none" stroke-dasharray="1.8,1.6"/>
<path d="M519,785.2 L621,785.2 C627,785.5 629,790 628,797 C626,818 612,832 589.8,840.5 C575,845 555,844 537,833.3 C528,828 521,821 517.8,814" stroke="#999" stroke-width="1.1" fill="none" stroke-dasharray="1.8,1.6"/>
<path d="M474.6,793.6 L623,793.6" stroke="#999" stroke-width="1.1" fill="none" stroke-dasharray="1.8,1.6"/>
<path d="M474.6,793.6 Q474,788.8 481,788.8 Q488,789 489,793" stroke="#999" stroke-width="1.1" fill="none" stroke-dasharray="1.8,1.6"/>
<path d="M483,805.7 L621,805.7" stroke="#999" stroke-width="1.1" fill="none" stroke-dasharray="1.8,1.6"/>
<path d="M589.8,840.5 C578,855 565,870 549,881.3 C538,888 530,890.9 520,890.9 C505,890.9 492,886 486,876 C481,866 481.5,840 483,808" stroke="#999" stroke-width="1.1" fill="none" stroke-dasharray="1.8,1.6"/>
<path d="M487.8,814 C488,830 489,845 492,855 C496,866 505,877 525,881.3" stroke="#999" stroke-width="1.1" fill="none" stroke-dasharray="1.8,1.6"/>
<path d="M473.4,790 L473.4,895.7 L537,895.7 C545,893 555,888 560,884" stroke="#999" stroke-width="1.1" fill="none" stroke-dasharray="1.8,1.6"/>
<ellipse cx="520.2" cy="849.5" rx="26" ry="6.8" transform="rotate(56 520.2 849.5)" fill="none" stroke="#999" stroke-width="1.1" stroke-dasharray="1.8,1.6"/>
<rect x="460.2" y="588.3" width="11.3" height="310.7" rx="0" stroke="#4a4a4a" stroke-width="1.2" fill="#fff" />
<line x1="461.4" y1="592" x2="461.4" y2="898" stroke="#777" stroke-width="0.7" />
<rect x="460.6" y="899" width="10.6" height="7" rx="0" stroke="#4a4a4a" stroke-width="1.2" fill="none" />
<line x1="459.8" y1="905.5" x2="471.8" y2="905.5" stroke="#333" stroke-width="1.8" />
<rect x="471.5" y="601.9" width="13.3" height="38.9" rx="0" stroke="#4a4a4a" stroke-width="1.2" fill="none" />
<line x1="474.4" y1="603" x2="474.4" y2="640" stroke="#4a4a4a" stroke-width="0.8" />
<line x1="476" y1="609" x2="476" y2="614" stroke="#333" stroke-width="1.6" />
<line x1="476" y1="630" x2="476" y2="634.5" stroke="#333" stroke-width="1.6" />
<path d="M413.8,594.2 L418,593 L455,593 L455,595.4 L418,595.4 Z" stroke="#4a4a4a" stroke-width="0.8" fill="#ddd" />
<path d="M419,593 L418,595.4 M422,593 L421,595.4 M425,593 L424,595.4 M428,593 L427,595.4 M431,593 L430,595.4 M434,593 L433,595.4 M437,593 L436,595.4" stroke="#4a4a4a" stroke-width="0.6" fill="none" />
<rect x="455" y="591.5" width="5" height="5.4" rx="0" stroke="#4a4a4a" stroke-width="1" fill="none" />
<path d="M460.2,596.8 L452.5,596.8 Q448.7,597 448.7,601 L448.7,612.5 Q448.7,616.5 444.5,616.8 L441.5,617.2 Q437.3,618 437.3,622.5 L437.3,662.8" stroke="#4a4a4a" stroke-width="1.3" fill="none" />
<rect x="445.2" y="605.2" width="3.5" height="8" rx="0" stroke="#4a4a4a" stroke-width="1" fill="none" />
<line x1="425" y1="608.4" x2="445" y2="608.4" stroke="#8a8a8a" stroke-width="0.9" />
<path d="M392.2,605.8 q2.5,-1.6 5,0 t5,0 t5,0 t5,0" stroke="#555" stroke-width="0.9" fill="none" />
<path d="M392.2,608.4 q2.5,-1.6 5,0 t5,0 t5,0 t5,0" stroke="#555" stroke-width="0.9" fill="none" />
<path d="M392.2,611.0 q2.5,-1.6 5,0 t5,0 t5,0 t5,0" stroke="#555" stroke-width="0.9" fill="none" />
<polygon points="421.9,608.4 412,604 412,612.8" fill="#222" stroke="none" stroke-width="1"/>
<text x="400.3" y="634" font-size="19.5" text-anchor="middle" fill="#2a2a2a" font-weight="normal" >G1/2"</text>
<path d="M438,631.5 Q438,630.4 440,630.4 L458.8,630.4 L458.8,639.4 L440,639.4 Q438,639.4 438,638 Z" stroke="#4a4a4a" stroke-width="1.2" fill="none" />
<line x1="441.5" y1="630.4" x2="441.5" y2="639.4" stroke="#4a4a4a" stroke-width="0.9" />
<line x1="446" y1="632" x2="458" y2="632" stroke="#4a4a4a" stroke-width="0.8" />
<line x1="446" y1="637.5" x2="458" y2="637.5" stroke="#4a4a4a" stroke-width="0.8" />
<line x1="446" y1="630.4" x2="446" y2="639.4" stroke="#4a4a4a" stroke-width="0.9" />
<rect x="433.6" y="643.9" width="2.7" height="18.9" rx="0" stroke="#4a4a4a" stroke-width="0.8" fill="#999" />
<path d="M460.2,662.8 L433.6,662.8 L433.6,732 Q433.6,736 437.6,736 L460.2,736" stroke="#4a4a4a" stroke-width="1.3" fill="none" />
<rect x="439.2" y="736" width="20.3" height="7.2" rx="0" stroke="#4a4a4a" stroke-width="1.1" fill="none" />
<line x1="439.2" y1="740" x2="459.5" y2="740" stroke="#4a4a4a" stroke-width="0.8" />
<rect x="442.4" y="743.2" width="17.1" height="4.8" rx="0" stroke="#4a4a4a" stroke-width="1.1" fill="none" />
<line x1="442.4" y1="748" x2="459.5" y2="748" stroke="#333" stroke-width="1.8" />
<path d="M442.6,748 C443.5,772 444.5,789 447,797 C449.5,804 453,807.5 457.4,809.5" stroke="#4a4a4a" stroke-width="1.2" fill="none" />
<circle cx="458" cy="812" r="2" stroke="#4a4a4a" stroke-width="1" fill="none" />
<line x1="458.6" y1="815" x2="458.6" y2="822" stroke="#333" stroke-width="2.4" />
<path d="M460.2,828.3 L452,828.3 C438,828.3 428.5,838.5 428.5,851.5 L428.5,868.8" stroke="#4a4a4a" stroke-width="1.3" fill="none" />
<path d="M455.2,868.8 L455.2,855.2 L460.2,855.2" stroke="#4a4a4a" stroke-width="1.2" fill="none" />
<rect x="424.8" y="869" width="32.8" height="5.2" rx="0" stroke="#333" stroke-width="1.8" fill="none" />
<rect x="425.5" y="874.2" width="30" height="4.5" rx="0" stroke="#4a4a4a" stroke-width="1" fill="none" />
<path d="M422.9,878.7 L457.1,878.7 L457.1,893 Q457.1,896.7 453,896.7 L427,896.7 Q422.9,896.7 422.9,893 Z" stroke="#4a4a4a" stroke-width="1.2" fill="none" />
<line x1="422.9" y1="878.9" x2="457.1" y2="878.9" stroke="#333" stroke-width="2" />
<path d="M428.3,896.7 L428.3,899.4 L453.5,899.4 L453.5,896.7" stroke="#4a4a4a" stroke-width="1.1" fill="none" />
<rect x="471.5" y="825.6" width="3.6" height="31.2" rx="1.5" stroke="#333" stroke-width="1.1" fill="#888" />
<rect x="471.7" y="811.2" width="42.7" height="3.2" rx="0" stroke="#333" stroke-width="1" fill="#bbb" />
<line x1="444" y1="843.2" x2="475" y2="843.2" stroke="#8a8a8a" stroke-width="0.9" stroke-dasharray="8,2,1.5,2"/>
<line x1="438.6" y1="880" x2="438.6" y2="932" stroke="#8a8a8a" stroke-width="0.9" stroke-dasharray="6,2,1.5,2"/>
<line x1="441.8" y1="850" x2="441.8" y2="956" stroke="#8a8a8a" stroke-width="0.9" />
<line x1="433.3" y1="545.6" x2="433.3" y2="580" stroke="#8a8a8a" stroke-width="0.9" />
<line x1="433.3" y1="580" x2="433.3" y2="603.2" stroke="#8a8a8a" stroke-width="0.9" stroke-dasharray="3,2"/>
<line x1="472" y1="545.6" x2="472" y2="585.6" stroke="#8a8a8a" stroke-width="0.9" />
<line x1="477.6" y1="545.6" x2="477.6" y2="599.2" stroke="#8a8a8a" stroke-width="0.9" />
<line x1="433.3" y1="548" x2="515.2" y2="548" stroke="#8a8a8a" stroke-width="0.9" />
<polygon points="436,548 447,544.75 447,551.25" fill="#222" stroke="none" stroke-width="1"/>
<polygon points="470.6,548 459.6,544.75 459.6,551.25" fill="#222" stroke="none" stroke-width="1"/>
<polygon points="478.5,548 489.5,544.75 489.5,551.25" fill="#222" stroke="none" stroke-width="1"/>
<text x="454.8" y="540.8" font-size="19.5" text-anchor="middle" fill="#2a2a2a" font-weight="normal" >128</text>
<text x="502.4" y="540.8" font-size="19.5" text-anchor="middle" fill="#2a2a2a" font-weight="normal" >20</text>
<line x1="350" y1="608.4" x2="388.6" y2="608.4" stroke="#8a8a8a" stroke-width="0.9" />
<line x1="353" y1="608.4" x2="353" y2="907" stroke="#8a8a8a" stroke-width="0.9" />
<polygon points="353,608.4 349.75,619.4 356.25,619.4" fill="#222" stroke="none" stroke-width="1"/>
<polygon points="353,907 349.75,896 356.25,896" fill="#222" stroke="none" stroke-width="1"/>
<text x="349.5" y="751.7" font-size="19.5" text-anchor="middle" fill="#2a2a2a" font-weight="normal" transform="rotate(-90 349.5 751.7)" >(1025)</text>
<line x1="448" y1="670.4" x2="510.7" y2="670.4" stroke="#8a8a8a" stroke-width="0.9" />
<polygon points="458.4,670.4 447.4,667.15 447.4,673.65" fill="#222" stroke="none" stroke-width="1"/>
<polygon points="472,670.4 483,667.15 483,673.65" fill="#222" stroke="none" stroke-width="1"/>
<text x="498" y="666.4" font-size="19.5" text-anchor="middle" fill="#2a2a2a" font-weight="normal" >40</text>
<line x1="481.7" y1="642.2" x2="567.2" y2="642.2" stroke="#8a8a8a" stroke-width="0.9" />
<line x1="565" y1="642.2" x2="565" y2="812.6" stroke="#8a8a8a" stroke-width="0.9" />
<polygon points="565,642.2 561.75,653.2 568.25,653.2" fill="#222" stroke="none" stroke-width="1"/>
<polygon points="565,812.6 561.75,801.6 568.25,801.6" fill="#222" stroke="none" stroke-width="1"/>
<line x1="515" y1="812.6" x2="568.7" y2="812.6" stroke="#8a8a8a" stroke-width="0.9" stroke-dasharray="10,2,2,2"/>
<text x="560.5" y="727" font-size="19.5" text-anchor="middle" fill="#2a2a2a" font-weight="normal" transform="rotate(-90 560.5 727)" >593</text>
<line x1="625.2" y1="785" x2="671.6" y2="785" stroke="#8a8a8a" stroke-width="0.9" />
<line x1="667.2" y1="785" x2="667.2" y2="907" stroke="#8a8a8a" stroke-width="0.9" />
<polygon points="667.2,785 663.95,796 670.45,796" fill="#222" stroke="none" stroke-width="1"/>
<polygon points="667.2,907 663.95,896 670.45,896" fill="#222" stroke="none" stroke-width="1"/>
<text x="662.5" y="872" font-size="19.5" text-anchor="start" fill="#2a2a2a" font-weight="normal" transform="rotate(-90 662.5 872)" >410</text>
<text x="655" y="835.5" font-size="12" text-anchor="start" fill="#2a2a2a" font-weight="normal" transform="rotate(-90 655 835.5)" >+20</text>
<text x="665" y="835.5" font-size="12" text-anchor="start" fill="#2a2a2a" font-weight="normal" transform="rotate(-90 665 835.5)" >-10</text>
<text x="628.5" y="886.5" font-size="19.5" text-anchor="middle" fill="#2a2a2a" font-weight="normal" >0</text>
<polygon points="619.4,891.7 637.2,891.7 628.3,904" fill="#222" stroke="none" stroke-width="1"/>
<line x1="362.6" y1="889" x2="422.9" y2="889" stroke="#8a8a8a" stroke-width="0.9" />
<polygon points="422.9,889 411.9,885.75 411.9,892.25" fill="#222" stroke="none" stroke-width="1"/>
<line x1="458.9" y1="889" x2="467.9" y2="889" stroke="#8a8a8a" stroke-width="0.9" />
<polygon points="458.9,889 469.9,885.75 469.9,892.25" fill="#222" stroke="none" stroke-width="1"/>
<text x="388.2" y="883.2" font-size="19.5" text-anchor="middle" fill="#2a2a2a" font-weight="normal" >Ø110</text>
<line x1="402" y1="929.1" x2="457.1" y2="929.1" stroke="#8a8a8a" stroke-width="0.9" />
<polygon points="438.2,929.1 427.2,925.85 427.2,932.35" fill="#222" stroke="none" stroke-width="1"/>
<polygon points="441.8,929.1 452.8,925.85 452.8,932.35" fill="#222" stroke="none" stroke-width="1"/>
<text x="413.4" y="926.4" font-size="19.5" text-anchor="middle" fill="#2a2a2a" font-weight="normal" >(7)</text>
<line x1="472.4" y1="908" x2="472.4" y2="956" stroke="#8a8a8a" stroke-width="0.9" />
<line x1="423.8" y1="952.5" x2="526.4" y2="952.5" stroke="#8a8a8a" stroke-width="0.9" />
<polygon points="441.8,952.5 430.8,949.25 430.8,955.75" fill="#222" stroke="none" stroke-width="1"/>
<polygon points="472.4,952.5 483.4,949.25 483.4,955.75" fill="#222" stroke="none" stroke-width="1"/>
<text x="502" y="947.1" font-size="19.5" text-anchor="middle" fill="#2a2a2a" font-weight="normal" >102</text>
</g>
</svg></body></html>
